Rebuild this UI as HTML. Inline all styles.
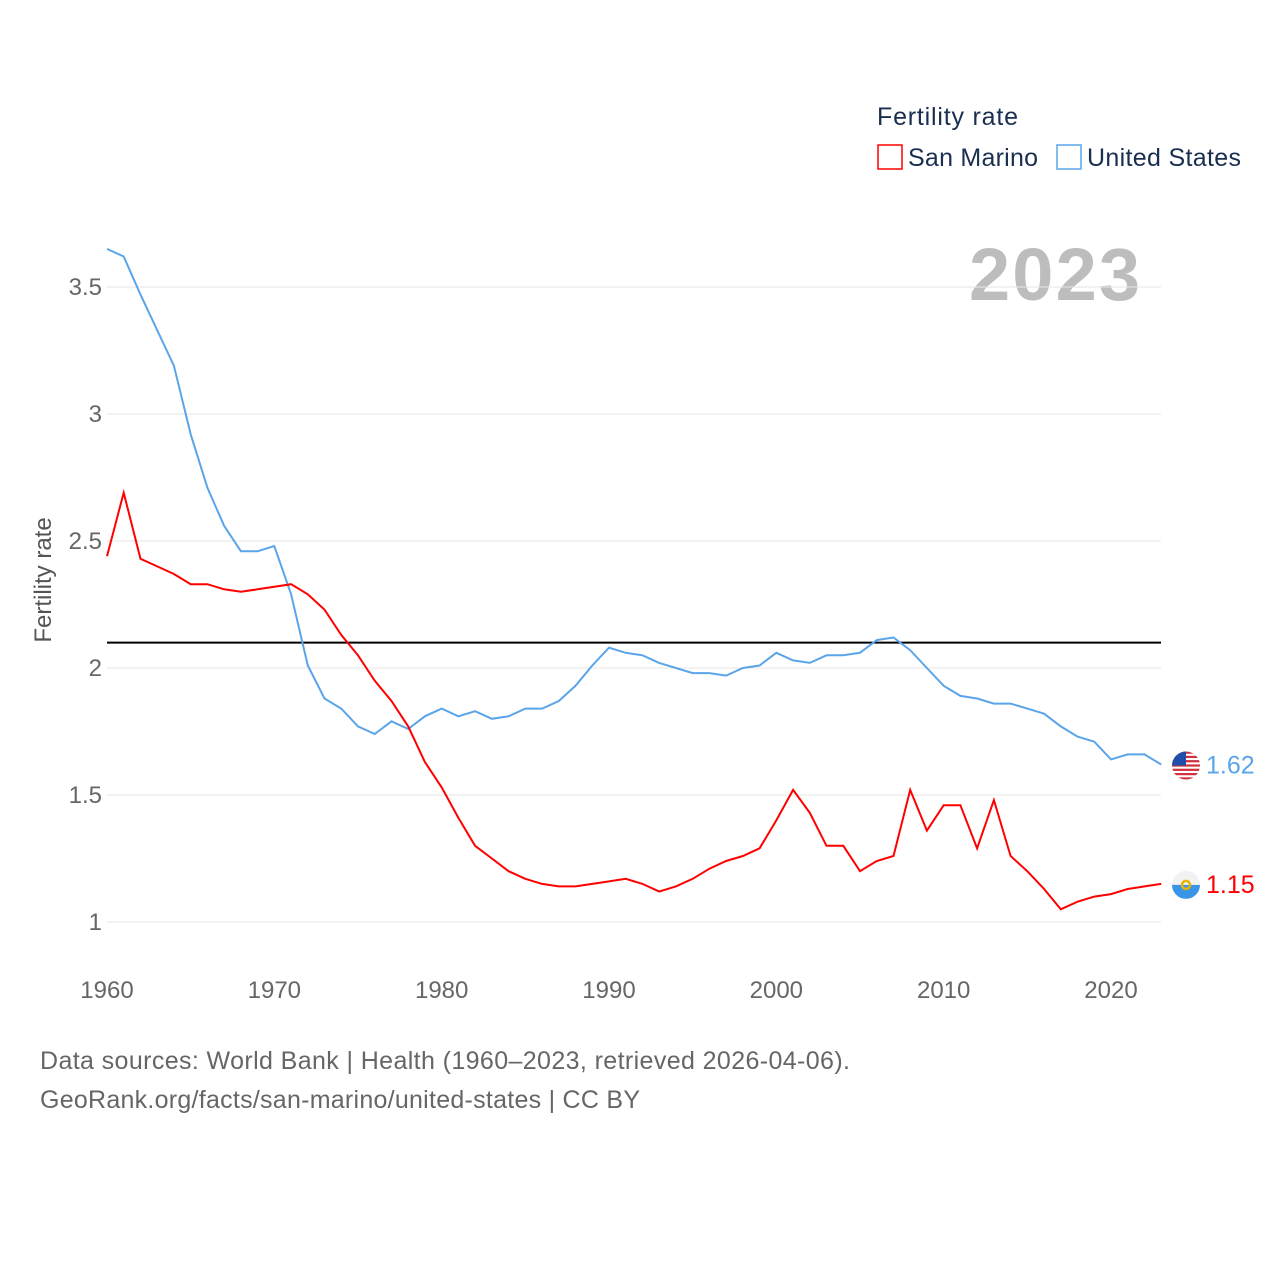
<!DOCTYPE html>
<html><head><meta charset="utf-8"><style>
html,body{margin:0;padding:0;background:#fff;}
svg{display:block;font-family:"Liberation Sans",sans-serif;}
</style></head><body>
<svg id="chart" width="1280" height="1280" viewBox="0 0 1280 1280">
<text x="877" y="125" font-size="25" fill="#1a2e4f" textLength="141">Fertility rate</text>
<g>
<rect x="878" y="145" width="24" height="24" fill="none" stroke="#ff0000" stroke-width="1.5"/>
<text x="908" y="166" font-size="25" fill="#1a2e4f" textLength="130">San Marino</text></g>
<g>
<rect x="1057" y="145" width="24" height="24" fill="none" stroke="#5aa5ea" stroke-width="1.5"/>
<text x="1087" y="166" font-size="25" fill="#1a2e4f" textLength="154">United States</text></g>
<text x="1140" y="300" font-size="74" font-weight="bold" fill="#bdbdbd" text-anchor="end" textLength="171">2023</text>
<g id="grid"></g><g id="yticks"></g><g id="xticks"></g>
<text transform="translate(51,580) rotate(-90)" font-size="24" fill="#555" text-anchor="middle">Fertility rate</text>
<g id="series"></g>
<text x="40" y="1069" font-size="25" fill="#666" textLength="810">Data sources: World Bank | Health (1960–2023, retrieved 2026-04-06).</text>
<text x="40" y="1108" font-size="25" fill="#666" textLength="600">GeoRank.org/facts/san-marino/united-states | CC BY</text>
</svg>
<script>
const years=[];for(let y=1960;y<=2023;y++)years.push(y);
const usValues=[3.65,3.62,3.47,3.33,3.19,2.92,2.71,2.56,2.46,2.46,2.48,2.29,2.01,1.88,1.84,1.77,1.74,1.79,1.76,1.81,1.84,1.81,1.83,1.80,1.81,1.84,1.84,1.87,1.93,2.01,2.08,2.06,2.05,2.02,2.00,1.98,1.98,1.97,2.00,2.01,2.06,2.03,2.02,2.05,2.05,2.06,2.11,2.12,2.07,2.00,1.93,1.89,1.88,1.86,1.86,1.84,1.82,1.77,1.73,1.71,1.64,1.66,1.66,1.62];
const smValues=[2.44,2.69,2.43,2.40,2.37,2.33,2.33,2.31,2.30,2.31,2.32,2.33,2.29,2.23,2.13,2.05,1.95,1.87,1.77,1.63,1.53,1.41,1.30,1.25,1.20,1.17,1.15,1.14,1.14,1.15,1.16,1.17,1.15,1.12,1.14,1.17,1.21,1.24,1.26,1.29,1.40,1.52,1.43,1.30,1.30,1.20,1.24,1.26,1.52,1.36,1.46,1.46,1.29,1.48,1.26,1.20,1.13,1.05,1.08,1.10,1.11,1.13,1.14,1.15];
const yTicks=[1,1.5,2,2.5,3,3.5];
const yTickLabels=["1","1.5","2","2.5","3","3.5"];
const xTicks=[1960,1970,1980,1990,2000,2010,2020];
const replacementRate=2.1;
const NS="http://www.w3.org/2000/svg";
const X=yr=>107+(yr-1960)*(1004/60);
const Y=v=>922-(v-1)*254;
function mk(tag,attrs,parent,text){const e=document.createElementNS(NS,tag);for(const k in attrs)e.setAttribute(k,attrs[k]);if(text!=null)e.textContent=text;document.getElementById(parent).appendChild(e);return e;}
yTicks.forEach((t,i)=>{
 const l=mk('line',{x1:107,x2:1161,y1:Y(t),y2:Y(t),stroke:'#e6e6e6','stroke-width':1},'grid');
 
 
 const tx=mk('text',{x:102,y:Y(t)+8,'font-size':24,fill:'#666','text-anchor':'end'},'yticks',yTickLabels[i]);
 
 
});
xTicks.forEach(t=>{
 const tx=mk('text',{x:X(t),y:998,'font-size':24,fill:'#666','text-anchor':'middle'},'xticks',String(t));
 
 
});
const ref=mk('line',{x1:107,x2:1161,y1:Y(replacementRate),y2:Y(replacementRate),stroke:'#000','stroke-width':2},'series');


function pts(vals){return vals.map((v,i)=>X(years[i]).toFixed(1)+','+Y(v).toFixed(1)).join(' ');}
const us=mk('polyline',{points:pts(usValues),fill:'none',stroke:'#5aa5ea','stroke-width':2},'series');


const sm=mk('polyline',{points:pts(smValues),fill:'none',stroke:'#ff0000','stroke-width':2},'series');


const lastI=years.length-1;
function flag(v,kind,color,name){
 const cx=1186,cy=Y(v)+1;
 const g=mk('g',{},'series');
 
 
 const id='clip'+kind;
 const cp=document.createElementNS(NS,'clipPath');cp.setAttribute('id',id);
 const cc=document.createElementNS(NS,'circle');cc.setAttribute('cx',cx);cc.setAttribute('cy',cy);cc.setAttribute('r',14);cp.appendChild(cc);g.appendChild(cp);
 const inner=document.createElementNS(NS,'g');inner.setAttribute('clip-path','url(#'+id+')');g.appendChild(inner);
 const r=(x,y,w,h,f)=>{const e=document.createElementNS(NS,'rect');e.setAttribute('x',x);e.setAttribute('y',y);e.setAttribute('width',w);e.setAttribute('height',h);e.setAttribute('fill',f);inner.appendChild(e);};
 if(kind==='us'){r(cx-14,cy-14,28,28,'#fff');for(let k=0;k<7;k++)r(cx-14,cy-14+k*4.3,28,2.2,'#d22f3c');r(cx-14,cy-14,14,14,'#1f4fa8');}
 else{r(cx-14,cy-14,28,14,'#f2f2f2');r(cx-14,cy,28,14,'#3a95e8');const e=document.createElementNS(NS,'circle');e.setAttribute('cx',cx);e.setAttribute('cy',cy);e.setAttribute('r',4);e.setAttribute('fill','none');e.setAttribute('stroke','#e8b400');e.setAttribute('stroke-width',2.5);inner.appendChild(e);}
 const t=mk('text',{x:1206,y:Y(v)+9,'font-size':25,fill:color},'series',v.toFixed(2));
 
 
}
flag(usValues[lastI],'us','#5aa5ea','us');
flag(smValues[lastI],'sm','#ff0000','san-marino');
</script>
</body></html>
